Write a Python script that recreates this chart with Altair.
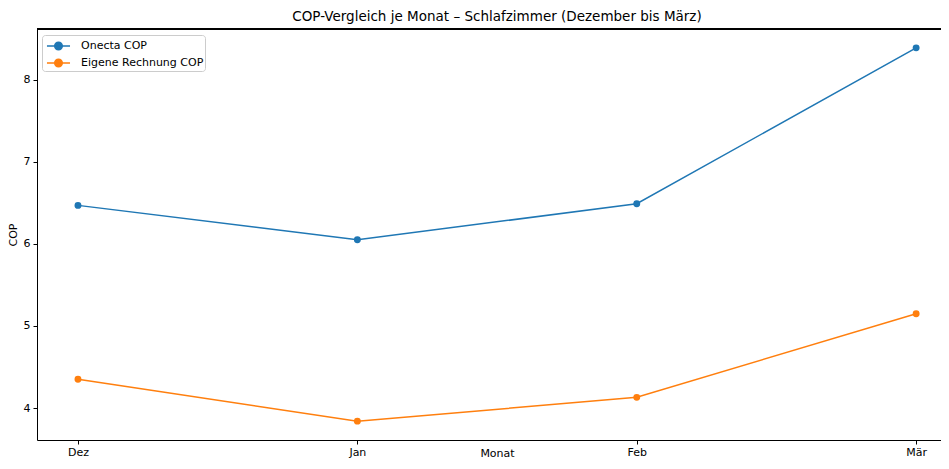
import altair as alt
import pandas as pd

months = ["Dez", "Jan", "Feb", "Mär"]
onecta_cop = [6.47, 6.05, 6.49, 8.39]
eigene_cop = [4.35, 3.84, 4.13, 5.15]
series_names = ["Onecta COP", "Eigene Rechnung COP"]

rows = []
for i, m in enumerate(months):
    rows.append({"idx": i, "Monat": m, "COP": onecta_cop[i], "Serie": series_names[0]})
for i, m in enumerate(months):
    rows.append({"idx": i, "Monat": m, "COP": eigene_cop[i], "Serie": series_names[1]})
df = pd.DataFrame(rows)

W, H = 904, 411
FONT = "DejaVu Sans"
label_expr = "[" + ",".join("'%s'" % m for m in months) + "][round(datum.value)]"

sym = "M-0.67,0L1.89,0M1.03,0A0.42,0.42,0,1,1,0.19,0A0.42,0.42,0,1,1,1.03,0Z"

base = alt.Chart(df)

lines = base.mark_line(
    strokeWidth=1.5,
    point=alt.OverlayMarkDef(filled=True, size=48, opacity=1),
).encode(
    x=alt.X(
        "idx:Q",
        scale=alt.Scale(domain=[-0.1467, 3.089], nice=False, zero=False),
        axis=alt.Axis(
            title="Monat",
            values=[0, 1, 2, 3],
            labelExpr=label_expr,
            grid=False,
            tickSize=4,
            labelPadding=2,
            titleX=460,
            titleY=18,
            titleBaseline="bottom",
        ),
    ),
    y=alt.Y(
        "COP:Q",
        scale=alt.Scale(domain=[3.61, 8.62], nice=False, zero=False),
        axis=alt.Axis(
            title="COP",
            values=[4, 5, 6, 7, 8],
            grid=False,
            tickSize=4,
            labelPadding=3,
            titlePadding=4.5,
        ),
    ),
    color=alt.Color(
        "Serie:N",
        scale=alt.Scale(domain=series_names, range=["#1f77b4", "#ff7f0e"]),
        sort=series_names,
        legend=alt.Legend(
            title=None,
            orient="none",
            legendX=5,
            legendY=6,
            symbolType=sym,
            symbolSize=324,
            symbolStrokeWidth=1.5,
            labelFontSize=11,
            labelFont=FONT,
            labelColor="black",
            strokeColor="#cccccc",
            fillColor="white",
            cornerRadius=3,
            padding=1,
            rowPadding=0,
            labelOffset=18,
        ),
    ),
)

top_rule = alt.Chart(df).mark_rule(color="black", strokeWidth=1).encode(
    x=alt.value(0), x2=alt.value(W + 10), y=alt.value(0)
)

chart = (
    alt.layer(lines, top_rule)
    .properties(
        width=W,
        height=H,
        title=alt.TitleParams(
            "COP-Vergleich je Monat – Schlafzimmer (Dezember bis März)",
            font=FONT,
            fontSize=13.5,
            fontWeight="normal",
            color="black",
            anchor="middle",
            dx=8,
            offset=5,
        ),
        autosize=alt.AutoSizeParams(type="none"),
        padding={"left": 29, "top": 21, "right": 0, "bottom": 19},
    )
    .configure_view(stroke=None)
    .configure_axis(
        domainColor="black",
        tickColor="black",
        labelColor="black",
        titleColor="black",
        labelFont=FONT,
        titleFont=FONT,
        labelFontSize=11,
        titleFontSize=11,
        titleFontWeight="normal",
        domainWidth=1,
        tickWidth=1,
    )
)

chart.save("out.html", embed_options={"renderer": "svg", "actions": False})
